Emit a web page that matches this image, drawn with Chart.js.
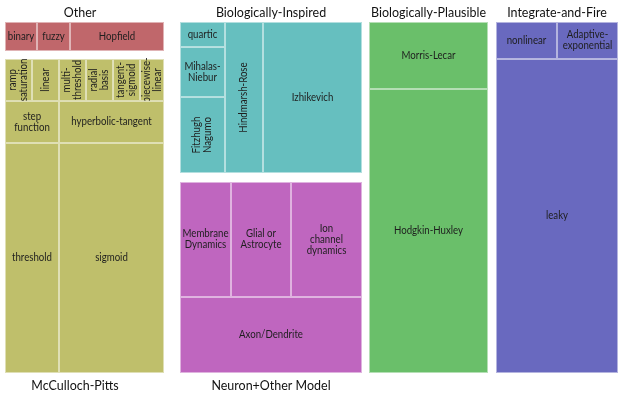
<!DOCTYPE html>
<html>
<head>
<meta charset="utf-8">
<script src="https://cdn.jsdelivr.net/npm/chart.js@4.4.0/dist/chart.umd.min.js"></script>
<style>
  html, body { margin: 0; padding: 0; background: #fff; }
</style>
</head>
<body>
<canvas id="treeChart" width="620" height="398"></canvas>
<script>
// Cell labels and values (area units) per group
const otherLabels = ['binary', 'fuzzy', 'Hopfield'];
const otherValues = [9.3, 9.6, 27.3];

const mcpLabels = ['ramp\nsaturation', 'linear', 'multi-\nthreshold', 'radial\nbasis', 'tangent-\nsigmoid', 'piecewise-\nlinear',
                   'step\nfunction', 'hyperbolic-tangent', 'threshold', 'sigmoid'];
const mcpValues = [11.3, 11.3, 11.3, 11.3, 11.3, 10.0, 22.7, 44.1, 124.2, 241.5];

const inspiredLabels = ['quartic', 'Mihalas-\nNiebur', 'Fitzhugh\nNagumo', 'Hindmarsh-Rose', 'Izhikevich'];
const inspiredValues = [11.3, 22.5, 34.2, 57.4, 149.5];

const neuronLabels = ['Membrane\nDynamics', 'Glial or\nAstrocyte', 'Ion\nchannel\ndynamics', 'Axon/Dendrite'];
const neuronValues = [58.7, 69.0, 81.7, 138.3];

const plausibleLabels = ['Morris-Lecar', 'Hodgkin-Huxley'];
const plausibleValues = [79.7, 338.0];

const fireLabels = ['nonlinear', 'Adaptive-\nexponential', 'leaky'];
const fireValues = [22.6, 22.6, 383.1];

const groupNames = ['Other', 'McCulloch-Pitts', 'Biologically-Inspired', 'Neuron+Other Model', 'Biologically-Plausible', 'Integrate-and-Fire'];

// labels drawn sideways
const rotatedLabels = ['ramp\nsaturation', 'linear', 'multi-\nthreshold', 'radial\nbasis', 'tangent-\nsigmoid',
                       'piecewise-\nlinear', 'Fitzhugh\nNagumo', 'Hindmarsh-Rose'];

// layout: frame of each group in chart units, split tree and title placement
const groups = [
  { name: groupNames[0], labels: otherLabels, values: otherValues, color: '#c0676b',
    frame: [5, 164, 22, 51], title: 'top', titleX: 80,
    tree: { dir: 'h', items: [0, 1, 2] } },
  { name: groupNames[1], labels: mcpLabels, values: mcpValues, color: '#bfbf6b',
    frame: [5, 164, 59, 373], title: 'bottom', titleX: 75,
    tree: { dir: 'v', items: [{ dir: 'h', items: [0, 1, 2, 3, 4, 5] }, { dir: 'h', items: [6, 7] }, { dir: 'h', items: [8, 9] }] } },
  { name: groupNames[2], labels: inspiredLabels, values: inspiredValues, color: '#66bfbf',
    frame: [180, 362, 22, 173], title: 'top',
    tree: { dir: 'h', items: [{ dir: 'v', items: [0, 1, 2] }, 3, 4] } },
  { name: groupNames[3], labels: neuronLabels, values: neuronValues, color: '#bf66bf',
    frame: [180, 362, 182, 373], title: 'bottom',
    tree: { dir: 'v', items: [{ dir: 'h', items: [0, 1, 2] }, 3] } },
  { name: groupNames[4], labels: plausibleLabels, values: plausibleValues, color: '#6abf6a',
    frame: [369, 488, 22, 373], title: 'top',
    tree: { dir: 'v', items: [0, 1] } },
  { name: groupNames[5], labels: fireLabels, values: fireValues, color: '#6969bf',
    frame: [496, 618, 22, 373], title: 'top',
    tree: { dir: 'v', items: [{ dir: 'h', items: [0, 1] }, 2] } }
];

function nodeSum(node, values) {
  if (typeof node === 'number') return values[node];
  return node.items.reduce((s, n) => s + nodeSum(n, values), 0);
}

// slice-and-dice the frame by the values
function layoutNode(node, values, x0, x1, y0, y1, out) {
  if (typeof node === 'number') {
    out.push({ idx: node, x0, x1, y0, y1 });
    return;
  }
  const total = nodeSum(node, values);
  let pos = node.dir === 'h' ? x0 : y0;
  node.items.forEach(child => {
    const frac = nodeSum(child, values) / total;
    if (node.dir === 'h') {
      const w = (x1 - x0) * frac;
      layoutNode(child, values, pos, pos + w, y0, y1, out);
      pos += w;
    } else {
      const h = (y1 - y0) * frac;
      layoutNode(child, values, x0, x1, pos, pos + h, out);
      pos += h;
    }
  });
}

const treemapPlugin = {
  id: 'treemapCells',
  afterDatasetsDraw(chart) {
    const ctx = chart.ctx;
    const xs = chart.scales.x, ys = chart.scales.y;
    ctx.save();
    groups.forEach(g => {
      const cells = [];
      const [fx0, fx1, fy0, fy1] = g.frame;
      layoutNode(g.tree, g.values, fx0, fx1, fy0, fy1, cells);
      cells.forEach(c => {
        const px0 = xs.getPixelForValue(c.x0), px1 = xs.getPixelForValue(c.x1);
        const py0 = ys.getPixelForValue(c.y0), py1 = ys.getPixelForValue(c.y1);
        ctx.fillStyle = g.color;
        ctx.fillRect(px0, py0, px1 - px0, py1 - py0);
        ctx.strokeStyle = 'rgba(255,255,255,0.5)';
        ctx.lineWidth = 1;
        ctx.strokeRect(Math.round(px0) + 0.5, Math.round(py0) + 0.5, Math.round(px1 - px0) - 1, Math.round(py1 - py0) - 1);

        // label
        const label = g.labels[c.idx];
        const lines = label.split('\n');
        const lh = 11;
        ctx.fillStyle = '#1e1e1e';
        ctx.font = '10.5px Lato, "Liberation Sans", sans-serif';
        ctx.textAlign = 'center';
        ctx.textBaseline = 'middle';
        const cx = (px0 + px1) / 2, cy = (py0 + py1) / 2;
        ctx.save();
        ctx.translate(cx, cy);
        if (rotatedLabels.includes(label)) ctx.rotate(-Math.PI / 2);
        ctx.scale(0.92, 1);
        lines.forEach((ln, i) => {
          ctx.fillText(ln, 0, (i - (lines.length - 1) / 2) * lh);
        });
        ctx.restore();
      });

      // group title
      ctx.fillStyle = '#111';
      ctx.font = '13px Lato, "Liberation Sans", sans-serif';
      ctx.textAlign = 'center';
      ctx.textBaseline = 'middle';
      const tx = xs.getPixelForValue(g.titleX !== undefined ? g.titleX : (fx0 + fx1) / 2);
      const ty = g.title === 'top' ? ys.getPixelForValue(fy0) - 9 : ys.getPixelForValue(fy1) + 13;
      ctx.save();
      ctx.translate(tx, ty);
      ctx.scale(0.96, 1);
      ctx.fillText(g.name, 0, 0);
      ctx.restore();
    });
    ctx.restore();
  }
};

const ctx = document.getElementById('treeChart').getContext('2d');
new Chart(ctx, {
  type: 'scatter',
  data: { datasets: [] },
  options: {
    responsive: false,
    animation: false,
    layout: { padding: 0 },
    plugins: {
      legend: { display: false },
      tooltip: { enabled: false }
    },
    scales: {
      x: { type: 'linear', min: 0, max: 620, display: false },
      y: { type: 'linear', min: 0, max: 398, reverse: true, display: false }
    }
  },
  plugins: [treemapPlugin]
});
</script>
</body>
</html>
